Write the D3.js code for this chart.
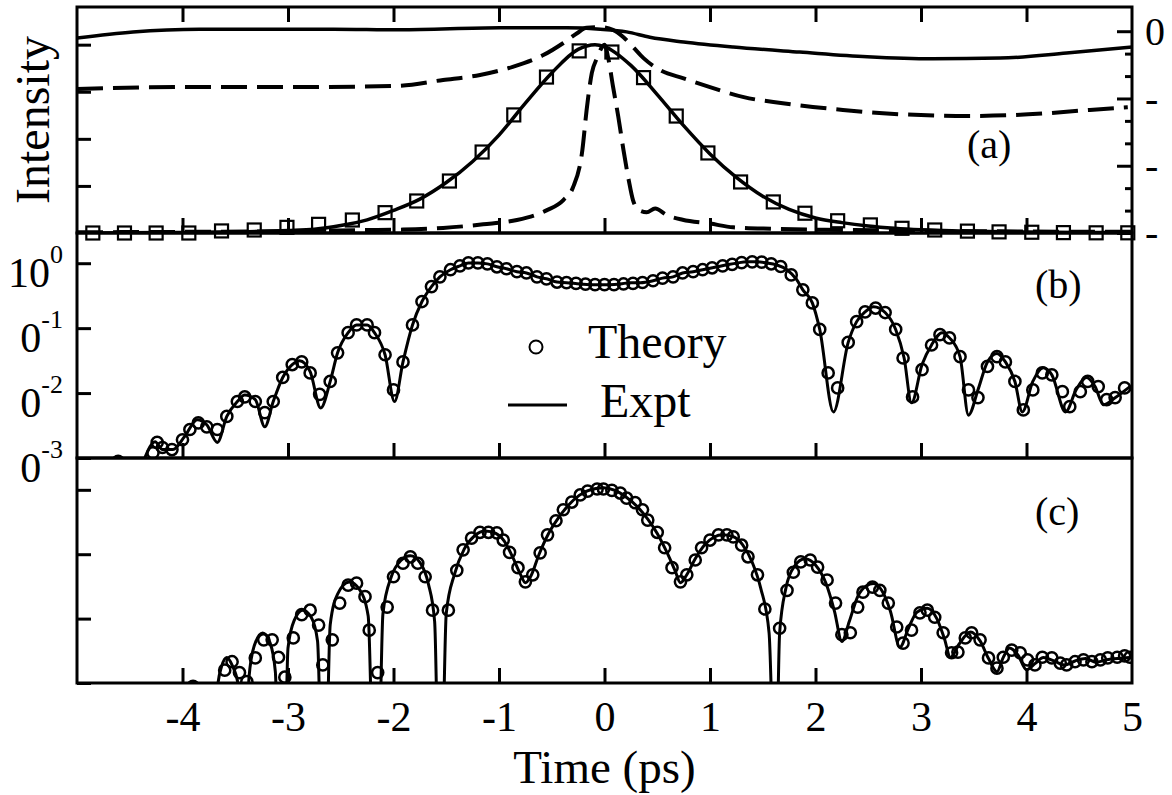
<!DOCTYPE html>
<html>
<head>
<meta charset="utf-8">
<script src="https://cdn.jsdelivr.net/npm/d3@7"></script>
<style>
  body { margin: 0; background: #fff; }
  svg text { font-family: "Liberation Serif", "Times New Roman", serif; fill: #000; }
</style>
</head>
<body>
<svg id="chart" width="1172" height="795"></svg>
<script>
// ---------- Panel (a): pulse intensity (left axis) and phase (right axis) ----------
const squareTimes = [-4.85,-4.55,-4.25,-3.94,-3.63,-3.32,-3.01,-2.71,-2.39,-2.08,-1.78,-1.47,-1.16,-0.86,-0.55,-0.24,0.07,0.37,0.68,0.98,1.29,1.60,1.90,2.21,2.52,2.82,3.13,3.44,3.74,4.05,4.35,4.66,4.96];
const squareIntensity = [0,0,0,0,0.011,0.016,0.03,0.046,0.069,0.108,0.17,0.276,0.43,0.627,0.828,0.967,0.961,0.825,0.621,0.425,0.271,0.165,0.105,0.065,0.043,0.025,0.016,0.01,0.006,0.004,0.002,0.001,0.001];

const pulseTimes = [-5,-4.5,-4,-3.5,-3,-2.75,-2.5,-2.25,-2,-1.75,-1.5,-1.25,-1,-0.75,-0.5,-0.25,-0.09,0,0.25,0.5,0.75,1,1.25,1.5,1.75,2,2.25,2.5,2.75,3,3.5,4,4.5,5];
const pulseIntensity = [0,0.001,0.003,0.006,0.013,0.02,0.04,0.07,0.12,0.18,0.268,0.38,0.52,0.69,0.85,0.975,1.0,0.99,0.89,0.735,0.57,0.42,0.295,0.195,0.125,0.08,0.055,0.037,0.025,0.017,0.009,0.005,0.003,0.002];

const spikeTimes = [-5,-4,-3,-2.2,-1.91,-1.53,-1.15,-0.83,-0.55,-0.39,-0.30,-0.21,-0.17,-0.12,-0.07,-0.02,0,0.035,0.08,0.13,0.18,0.23,0.27,0.33,0.40,0.48,0.59,0.74,1.0,1.22,1.6,2.3,3,4,5];
const spikeIntensity = [0.004,0.006,0.01,0.016,0.018,0.027,0.046,0.069,0.12,0.175,0.24,0.44,0.65,0.85,0.93,0.99,1.0,0.93,0.78,0.62,0.44,0.28,0.175,0.12,0.11,0.13,0.095,0.07,0.05,0.03,0.022,0.016,0.012,0.008,0.006];

const phaseDashTimes = [-5,-4,-3,-2,-1.53,-1.18,-0.87,-0.58,-0.39,-0.26,-0.17,-0.04,0.08,0.18,0.27,0.37,0.53,0.75,1.0,1.32,1.69,2.26,2.64,3.06,3.44,3.82,4.19,4.6,4.96];
const phaseDash = [-0.86,-0.83,-0.83,-0.815,-0.725,-0.65,-0.53,-0.355,-0.175,-0.03,0.05,0.06,0.02,-0.09,-0.235,-0.40,-0.58,-0.70,-0.83,-0.98,-1.07,-1.17,-1.22,-1.25,-1.26,-1.25,-1.22,-1.17,-1.13];

const phaseSolidTimes = [-5,-4.47,-3.84,-3.2,-2.57,-1.94,-0.99,-0.36,-0.04,0.21,0.43,0.75,1.22,1.85,2.49,3.11,3.75,4.38,5];
const phaseSolid = [-0.10,-0.01,0.03,0.03,0.03,0.02,0.05,0.05,0.03,-0.01,-0.09,-0.16,-0.235,-0.31,-0.38,-0.41,-0.40,-0.325,-0.235];

// ---------- Panel (b): Theory (circles) vs Expt (line), log scale ----------
const theoryBTimes = [-4.61,-4.28,-4.24,-4.19,-4.10,-4.00,-3.93,-3.85,-3.77,-3.67,-3.58,-3.48,-3.41,-3.31,-3.22,-3.14,-3.05,-2.96,-2.87,-2.79,-2.70,-2.60,-2.53,-2.43,-2.35,-2.25,-2.18,-2.08,-2.00,-1.91,-1.82,-1.73,-1.64,-1.56,-1.46,-1.37,-1.29,-1.20,-1.11,-1.02,-0.93,-0.83,-0.74,-0.64,-0.55,-0.45,-0.36,-0.27,-0.18,-0.09,0.00,0.09,0.18,0.27,0.36,0.46,0.55,0.65,0.74,0.84,0.93,1.02,1.12,1.21,1.30,1.40,1.49,1.58,1.67,1.77,1.88,1.97,2.04,2.12,2.21,2.31,2.39,2.47,2.57,2.66,2.76,2.83,2.92,3.01,3.10,3.18,3.27,3.37,3.45,3.54,3.63,3.72,3.80,3.89,3.97,4.06,4.15,4.24,4.34,4.41,4.51,4.58,4.68,4.76,4.84,4.93];
const theoryB = [0.00089,0.0012,0.00174,0.00145,0.00135,0.00191,0.00275,0.00347,0.00302,0.00275,0.00437,0.00741,0.00871,0.00741,0.00501,0.00741,0.0174,0.0275,0.0302,0.0204,0.00955,0.0151,0.0417,0.0851,0.112,0.112,0.0851,0.0389,0.0112,0.0302,0.112,0.257,0.437,0.617,0.794,0.912,1.01,1.01,0.977,0.881,0.822,0.741,0.708,0.617,0.575,0.513,0.501,0.49,0.475,0.468,0.468,0.468,0.479,0.49,0.505,0.537,0.589,0.617,0.708,0.741,0.794,0.85,0.912,0.96,1.02,1.05,1.04,0.98,0.89,0.66,0.389,0.245,0.0955,0.0204,0.012,0.0603,0.126,0.178,0.204,0.174,0.0955,0.0347,0.00871,0.0229,0.055,0.0794,0.0708,0.0363,0.0112,0.00851,0.0257,0.0363,0.0302,0.0151,0.0055,0.0112,0.0204,0.0191,0.0105,0.00617,0.0105,0.0151,0.0126,0.00794,0.00851,0.012];

const exptBTimes = [-4.36,-4.26,-4.19,-4.09,-3.98,-3.86,-3.77,-3.67,-3.58,-3.48,-3.41,-3.31,-3.22,-3.14,-3.05,-2.96,-2.89,-2.79,-2.69,-2.60,-2.53,-2.43,-2.35,-2.25,-2.18,-2.08,-1.99,-1.91,-1.82,-1.73,-1.64,-1.56,-1.46,-1.37,-1.29,-1.20,-1.11,-1.02,-0.93,-0.83,-0.74,-0.64,-0.55,-0.45,-0.36,-0.23,-0.14,-0.04,0.05,0.15,0.24,0.34,0.46,0.55,0.65,0.74,0.84,0.93,1.07,1.16,1.26,1.35,1.45,1.54,1.63,1.73,1.82,1.88,1.97,2.04,2.17,2.31,2.39,2.47,2.55,2.66,2.76,2.84,2.91,3.01,3.10,3.20,3.27,3.37,3.45,3.54,3.63,3.72,3.80,3.89,3.96,4.06,4.16,4.24,4.37,4.47,4.57,4.65,4.73,4.84,4.98];
const exptB = [0.00098,0.00178,0.00135,0.00135,0.00214,0.00389,0.00324,0.00174,0.00437,0.00741,0.00933,0.00794,0.00302,0.00741,0.0174,0.0275,0.0316,0.0214,0.00589,0.0151,0.0417,0.0851,0.112,0.112,0.0851,0.0389,0.00741,0.0302,0.112,0.257,0.437,0.617,0.794,0.912,1.01,1.01,0.977,0.881,0.822,0.741,0.708,0.617,0.575,0.513,0.501,0.479,0.468,0.468,0.468,0.479,0.501,0.501,0.537,0.589,0.617,0.708,0.741,0.794,0.881,0.944,1.01,1.05,1.05,1.01,0.944,0.794,0.562,0.389,0.245,0.0955,0.00513,0.0603,0.126,0.178,0.214,0.174,0.0955,0.0347,0.00708,0.0275,0.055,0.0851,0.0708,0.0363,0.00457,0.0112,0.0302,0.0407,0.0302,0.0151,0.00513,0.0151,0.0245,0.0191,0.00513,0.0112,0.0174,0.0126,0.00661,0.0085,0.0126];

// ---------- Panel (c): Theory (circles) vs Expt (line), log scale ----------
const theoryCTimes = [-3.90,-3.60,-3.53,-3.46,-3.39,-3.31,-3.23,-3.15,-3.09,-3.03,-2.95,-2.87,-2.79,-2.71,-2.67,-2.58,-2.51,-2.43,-2.35,-2.27,-2.23,-2.15,-2.06,-2.00,-1.91,-1.84,-1.77,-1.70,-1.63,-1.48,-1.40,-1.34,-1.26,-1.18,-1.10,-1.02,-0.96,-0.90,-0.82,-0.75,-0.68,-0.61,-0.54,-0.46,-0.39,-0.31,-0.23,-0.16,-0.07,-0.01,0.07,0.15,0.21,0.29,0.36,0.41,0.50,0.57,0.64,0.72,0.78,0.86,0.92,1.00,1.08,1.16,1.22,1.30,1.36,1.45,1.52,1.66,1.73,1.79,1.86,1.95,2.02,2.11,2.19,2.25,2.33,2.40,2.45,2.54,2.61,2.69,2.77,2.83,2.91,2.99,3.06,3.13,3.21,3.29,3.35,3.42,3.48,3.56,3.64,3.72,3.78,3.86,3.94,4.01,4.08,4.15,4.24,4.32,4.38,4.46,4.54,4.62,4.70,4.77,4.86,4.93,4.98];
const theoryC = [0.00089,0.00158,0.00214,0.00145,0.00105,0.00245,0.00468,0.00468,0.00251,0.00123,0.00501,0.0115,0.0135,0.00794,0.00191,0.00468,0.0174,0.0331,0.0355,0.0219,0.00661,0.00145,0.0151,0.0447,0.0724,0.0912,0.0724,0.0447,0.0135,0.0135,0.0562,0.117,0.178,0.219,0.219,0.214,0.166,0.107,0.0617,0.0372,0.0479,0.105,0.20,0.331,0.49,0.646,0.832,0.955,1.03,1.03,0.98,0.891,0.741,0.631,0.49,0.339,0.219,0.126,0.0617,0.0372,0.0479,0.0813,0.126,0.166,0.20,0.20,0.186,0.138,0.0912,0.0479,0.0141,0.00708,0.0275,0.0525,0.0759,0.0813,0.0631,0.0398,0.0174,0.00562,0.00603,0.0151,0.0257,0.0309,0.0275,0.0174,0.00741,0.00417,0.00661,0.0123,0.0135,0.0105,0.00603,0.00295,0.00302,0.00501,0.00603,0.00468,0.00245,0.0017,0.00251,0.00324,0.00295,0.00229,0.00191,0.00251,0.00245,0.00204,0.00191,0.00214,0.00229,0.00214,0.00229,0.00245,0.00251,0.00263,0.00251];

const exptCTimes = [-3.70,-3.67,-3.63,-3.58,-3.53,-3.47,-3.40,-3.37,-3.32,-3.24,-3.17,-3.12,-3.08,-3.04,-3.00,-2.94,-2.86,-2.78,-2.72,-2.67,-2.65,-2.60,-2.53,-2.42,-2.32,-2.24,-2.18,-2.15,-2.10,-2.02,-1.93,-1.84,-1.75,-1.67,-1.61,-1.565,-1.55,-1.50,-1.42,-1.33,-1.23,-1.13,-1.03,-0.95,-0.87,-0.80,-0.75,-0.70,-0.62,-0.53,-0.44,-0.34,-0.24,-0.12,-0.01,0.10,0.21,0.31,0.41,0.50,0.60,0.67,0.72,0.78,0.86,0.95,1.04,1.12,1.21,1.31,1.40,1.48,1.56,1.62,1.66,1.72,1.80,1.90,2.00,2.10,2.18,2.25,2.32,2.40,2.48,2.55,2.63,2.71,2.80,2.88,2.96,3.06,3.15,3.22,3.28,3.36,3.47,3.56,3.64,3.72,3.78,3.84,3.92,4.00,4.08,4.16,4.26,4.36,4.46,4.56,4.66,4.76,4.86,4.98];
const exptC = [1e-5,0.0008,0.0018,0.0025,0.0019,0.0009,1e-5,0.0012,0.0038,0.006,0.0042,0.0015,1e-5,1e-5,0.0035,0.0095,0.0135,0.0105,0.0045,1e-5,1e-5,0.008,0.024,0.037,0.028,0.011,1e-5,1e-5,0.012,0.045,0.08,0.095,0.075,0.035,0.009,1e-5,1e-5,0.012,0.05,0.12,0.195,0.23,0.21,0.16,0.09,0.05,0.036,0.045,0.10,0.21,0.36,0.58,0.82,1.02,1.08,0.98,0.76,0.55,0.35,0.21,0.10,0.055,0.036,0.048,0.085,0.14,0.185,0.20,0.19,0.14,0.075,0.03,0.006,1e-5,0.006,0.03,0.065,0.085,0.068,0.035,0.013,0.0044,0.009,0.022,0.032,0.035,0.027,0.013,0.0036,0.007,0.0125,0.0145,0.01,0.005,0.0025,0.004,0.0062,0.0045,0.0024,0.0015,0.0025,0.0035,0.0027,0.0016,0.002,0.0025,0.0022,0.0019,0.0022,0.0024,0.0021,0.0023,0.0024,0.0025];

// ---------- Ticks and labels ----------
const xTicks = [-4,-3,-2,-1,0,1,2,3,4,5];
const leftTicksA = [0.25,0.5,0.75,1.0];
const rightTicksA = [0,-1,-2,-3];
const rightTickLabelsA = ["0","-","-","-"];
const rightMinorA = [-0.333,-0.667,-1.333,-1.667,-2.333,-2.667];
const logTicks = [1,0.1,0.01,0.001];
const logTickBase = ["10","0","0","0"];
const logTickExp = ["0","-1","-2","-3"];

// ---------- Layout ----------
const svg = d3.select("#chart");
const L = 77, R = 1132;
const bands = { a: [7, 233], b: [233, 458], c: [458, 683] };

const x = d3.scaleLinear().domain([-5, 5]).range([L, R]);
const yA = d3.scaleLinear().domain([0, 1.2]).range([bands.a[1], bands.a[0]]);
const yAR = d3.scaleLinear().domain([-3, 0.36]).range([bands.a[1], bands.a[0]]);
const yB = d3.scaleLog().domain([1e-3, 2.92]).range([bands.b[1], bands.b[0]]);
const yC = d3.scaleLog().domain([1e-3, 3.12]).range([bands.c[1], bands.c[0]]);

const defs = svg.append("defs");
Object.entries(bands).forEach(([k, [t, b]]) => {
  defs.append("clipPath").attr("id", "clip-" + k)
    .append("rect").attr("x", L).attr("y", t).attr("width", R - L).attr("height", b - t);
});

const curve = (ys) => d3.line().x(d => x(d[0])).y(d => ys(d[1])).curve(d3.curveMonotoneX);

function drawLine(panel, ys, ts, vs, width, dash) {
  const p = svg.append("path")
    .datum(d3.zip(ts, vs))
    .attr("clip-path", `url(#clip-${panel})`)
    .attr("fill", "none").attr("stroke", "#000")
    .attr("stroke-width", width)
    .attr("stroke-linejoin", "round")
    .attr("d", curve(ys));
  if (dash) p.attr("stroke-dasharray", dash);
  return p;
}

function drawCircles(panel, ys, ts, vs) {
  svg.append("g").attr("clip-path", `url(#clip-${panel})`)
    .selectAll("circle").data(d3.zip(ts, vs)).join("circle")
    .attr("cx", d => x(d[0])).attr("cy", d => ys(d[1])).attr("r", 5.6)
    .attr("fill", "none").attr("stroke", "#000").attr("stroke-width", 2.5);
}

// ---------- Panel (a) marks ----------
drawLine("a", yAR, phaseSolidTimes, phaseSolid, 3.5);
drawLine("a", yAR, phaseDashTimes, phaseDash, 4, "26,10");
drawLine("a", yA, spikeTimes, spikeIntensity, 4, "26,10");
drawLine("a", yA, pulseTimes, pulseIntensity, 3.5);
svg.append("g").selectAll("rect").data(d3.zip(squareTimes, squareIntensity)).join("rect")
  .attr("x", d => x(d[0]) - 6.5).attr("y", d => yA(d[1]) - 6.5)
  .attr("width", 13).attr("height", 13)
  .attr("fill", "none").attr("stroke", "#000").attr("stroke-width", 2.2);

// ---------- Panel (b) marks ----------
drawLine("b", yB, exptBTimes, exptB, 3);
drawCircles("b", yB, theoryBTimes, theoryB);

// ---------- Panel (c) marks ----------
drawLine("c", yC, exptCTimes, exptC, 3);
drawCircles("c", yC, theoryCTimes, theoryC);

// ---------- Axes ----------
function tidy(g) {
  g.select(".domain").remove();
  g.selectAll(".tick line").attr("stroke", "#000").attr("stroke-width", 3);
  g.attr("font-family", null).attr("font-size", null);
  return g;
}
const inner = xTicks.filter(v => v < 5);

svg.append("g").attr("transform", `translate(0,${bands.a[0]})`)
  .call(d3.axisTop(x).tickValues(inner).tickSize(-15).tickFormat("")).call(tidy);
svg.append("g").attr("transform", `translate(0,${bands.a[1]})`)
  .call(d3.axisBottom(x).tickValues(inner).tickSize(-15).tickFormat("")).call(tidy);
svg.append("g").attr("transform", `translate(0,${bands.b[1]})`)
  .call(d3.axisBottom(x).tickValues(inner).tickSize(-15).tickFormat("")).call(tidy);
const xAxis = svg.append("g").attr("transform", `translate(0,${bands.c[1]})`)
  .call(d3.axisBottom(x).tickValues(xTicks).tickSize(-15).tickFormat(d => String(d))).call(tidy);
xAxis.selectAll(".tick text").attr("y", 48).attr("dy", null).attr("font-size", 42);
xAxis.selectAll(".tick").filter(d => d === 5).select("line").remove();

svg.append("g").attr("transform", `translate(${L},0)`)
  .call(d3.axisLeft(yA).tickValues(leftTicksA).tickSize(-14).tickFormat("")).call(tidy);
const rA = svg.append("g").attr("transform", `translate(${R},0)`)
  .call(d3.axisRight(yAR).tickValues(rightTicksA).tickSize(-15).tickPadding(13)
    .tickFormat((d, i) => rightTickLabelsA[i])).call(tidy);
rA.selectAll(".tick text").attr("font-size", 40).attr("dy", "0.32em");
svg.append("g").attr("transform", `translate(${R},0)`)
  .call(d3.axisRight(yAR).tickValues(rightMinorA).tickSize(-7).tickFormat("")).call(tidy);

svg.append("g").attr("transform", `translate(${L},0)`)
  .call(d3.axisLeft(yB).tickValues(logTicks).tickSize(-14).tickFormat("")).call(tidy);
svg.append("g").attr("transform", `translate(${L},0)`)
  .call(d3.axisLeft(yC).tickValues(logTicks).tickSize(-14).tickFormat("")).call(tidy);

logTicks.forEach((v, i) => {
  const t = svg.append("text").attr("x", 63).attr("y", yB(v) + 24)
    .attr("text-anchor", "end").attr("font-size", 42);
  t.append("tspan").text(logTickBase[i]);
  t.append("tspan").attr("dy", -24).attr("font-size", 26).text(logTickExp[i]);
});

// Panel frames
Object.values(bands).forEach(([t, b]) => {
  svg.append("rect").attr("x", L).attr("y", t).attr("width", R - L).attr("height", b - t)
    .attr("fill", "none").attr("stroke", "#000").attr("stroke-width", 3);
});

// ---------- Text ----------
svg.append("text").attr("transform", "translate(49,120) rotate(-90)")
  .attr("text-anchor", "middle").attr("font-size", 48).text("Intensity");
svg.append("text").attr("x", x(0)).attr("y", 783)
  .attr("text-anchor", "middle").attr("font-size", 47).text("Time (ps)");

svg.append("text").attr("x", 967).attr("y", 158).attr("font-size", 40).text("(a)");
svg.append("text").attr("x", 1035).attr("y", 298).attr("font-size", 40).text("(b)");
svg.append("text").attr("x", 1035).attr("y", 525).attr("font-size", 40).text("(c)");

// Legend
svg.append("circle").attr("cx", 536).attr("cy", 347).attr("r", 6.5)
  .attr("fill", "none").attr("stroke", "#000").attr("stroke-width", 2);
svg.append("text").attr("x", 588).attr("y", 358).attr("font-size", 48).text("Theory");
svg.append("line").attr("x1", 508).attr("x2", 567).attr("y1", 405).attr("y2", 405)
  .attr("stroke", "#000").attr("stroke-width", 3);
svg.append("text").attr("x", 600).attr("y", 417).attr("font-size", 48).text("Expt");
</script>
</body>
</html>
